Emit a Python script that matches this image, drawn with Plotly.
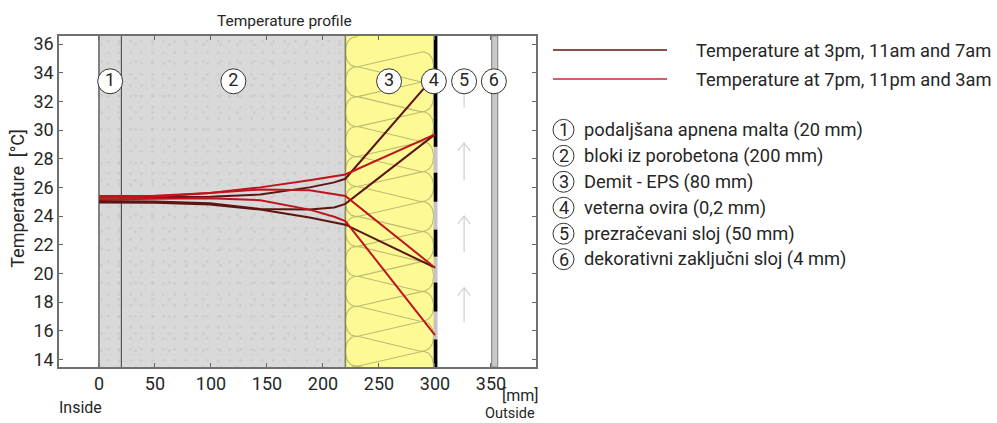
import numpy as np
import plotly.graph_objects as go

# ---- data ----
depth_mm = [0, 20, 50, 99, 144, 188, 210, 220, 300]
temp_dark_a = [25.30, 25.30, 25.30, 25.35, 25.50, 26.00, 26.35, 26.60, 33.80]
temp_dark_b = [25.05, 25.05, 25.02, 24.90, 24.50, 24.45, 24.60, 24.85, 29.70]
temp_dark_c = [24.95, 24.95, 24.92, 24.80, 24.45, 23.90, 23.55, 23.40, 20.40]
temp_red_a = [25.40, 25.40, 25.42, 25.60, 26.00, 26.50, 26.75, 26.90, 29.70]
temp_red_b = [25.30, 25.30, 25.35, 25.60, 25.85, 25.80, 25.55, 25.40, 20.40]
temp_red_c = [25.15, 25.15, 25.20, 25.25, 25.10, 24.45, 23.95, 23.65, 15.70]

layer_edges = [0, 20, 220, 300, 350.6, 356]
layer_ids = ["1", "2", "3", "4", "5", "6"]
layer_label_x = [10, 120, 259, 299, 326, 352.6]
layer_names = [
    "podaljšana apnena malta (20 mm)",
    "bloki iz porobetona (200 mm)",
    "Demit - EPS (80 mm)",
    "veterna ovira (0,2 mm)",
    "prezračevani sloj (50 mm)",
    "dekorativni zaključni sloj (4 mm)",
]
legend_names = ["Temperature at 3pm, 11am and 7am", "Temperature at 7pm, 11pm and 3am"]
x_ticks = [0, 50, 100, 150, 200, 250, 300, 350]
y_ticks = list(range(14, 38, 2))
barrier_dashes = [(13.4, 15.39), (17.34, 19.36), (21.17, 23.05), (25.0, 27.02), (28.83, 30.85), (30.85, 36.6)]
air_arrow_tips = [34.1, 29.1, 24.0, 19.0]
air_arrow_tails = [31.55, 26.5, 21.5, 16.6]

# ---- style and frame ----
W, H = 997, 423
L, R, T, B = 59, 536, 36, 367.5
X_RANGE = [-35.7, 390.2]
Y_RANGE = [13.47, 36.56]
FONT = "Roboto"
DARK = "#5c1512"
RED = "#c0141c"
TEXT = "#262626"


def px(x):
    return (x - L) / (R - L)


def py(y):
    return (B - y) / (B - T)


fig = go.Figure()


def band(x0, x1, fill, line=None, lw=0, pattern=None):
    fig.add_trace(go.Scatter(
        x=[x0, x1, x1, x0, x0],
        y=[Y_RANGE[0], Y_RANGE[0], Y_RANGE[1], Y_RANGE[1], Y_RANGE[0]],
        mode="lines", fill="toself", fillcolor=fill,
        line=dict(color=line or "rgba(0,0,0,0)", width=lw),
        fillpattern=pattern, hoverinfo="skip", showlegend=False,
    ))


# concrete with a speckled texture
band(layer_edges[0], layer_edges[2], "#d9d9d9",
     pattern=dict(shape=".", size=11, solidity=0.05, fgcolor="#c0c0c0", bgcolor="#d9d9d9"))
for size, solidity in [(17, 0.03), (7, 0.02)]:
    band(layer_edges[0], layer_edges[2], "rgba(0,0,0,0)",
         pattern=dict(shape=".", size=size, solidity=solidity, fgcolor="#c4c4c4", bgcolor="rgba(0,0,0,0)"))

band(layer_edges[2], layer_edges[3], "#fdfa96")

# insulation hatch: serpentine of straight runs and round ends
LEFT_CUSP, RIGHT_CUSP = 231.0, 287.0
PERIOD = 30 / 14.36
first_left = 36 - (36.7 - 44) / 14.36
first_right = 36 - (51.7 - 44) / 14.36
th = np.linspace(-np.pi / 2, np.pi / 2, 31)
bulge = np.cos(th) ** 0.75
hx, hy = [], []
for k in range(12):
    hx += list(LEFT_CUSP - 11.0 * bulge)
    hy += list(first_left - k * PERIOD - PERIOD / 2 - (PERIOD / 2) * np.sin(th))
    hx += list(RIGHT_CUSP + 11.8 * bulge)
    hy += list(first_right - k * PERIOD - PERIOD / 2 - (PERIOD / 2) * np.sin(th))
fig.add_trace(go.Scatter(x=hx, y=hy, mode="lines", line=dict(color="#bcbc72", width=1.1),
                         hoverinfo="skip", showlegend=False))

# layer boundaries
for xv, col, w in [(layer_edges[0], "#808080", 2), (layer_edges[1], "#4a4a4a", 1.1), (layer_edges[2], "#85855f", 1.6)]:
    fig.add_trace(go.Scatter(x=[xv, xv], y=Y_RANGE, mode="lines", line=dict(color=col, width=w),
                             hoverinfo="skip", showlegend=False))

# facade
band(layer_edges[4], layer_edges[5], "#c9c9c9", line="#8c8c8c", lw=1.2)

# wind barrier
fig.add_trace(go.Scatter(x=[layer_edges[3] + 0.5] * 2, y=Y_RANGE, mode="lines",
                         line=dict(color="#c4c4c4", width=4), hoverinfo="skip", showlegend=False))
dx, dy = [], []
for a, b in barrier_dashes:
    dx += [layer_edges[3] + 0.5, layer_edges[3] + 0.5, None]
    dy += [a, b, None]
fig.add_trace(go.Scatter(x=dx, y=dy, mode="lines", line=dict(color="#000000", width=3.6),
                         hoverinfo="skip", showlegend=False))

# air flow arrows (below the circled numbers)
AIR_X, HEAD_DX, HEAD_DY = 326, 5.5, 0.55
ax, ay = [], []
for tip, tail in zip(air_arrow_tips, air_arrow_tails):
    ax += [AIR_X, AIR_X, None, AIR_X - HEAD_DX, AIR_X, AIR_X + HEAD_DX, None]
    ay += [tail, tip, None, tip - HEAD_DY, tip, tip - HEAD_DY, None]
fig.add_trace(go.Scatter(x=ax, y=ay, mode="lines", line=dict(color="#cfcfcf", width=1.2),
                         hoverinfo="skip", showlegend=False))

# temperature profiles
for series in (temp_dark_a, temp_dark_b, temp_dark_c):
    fig.add_trace(go.Scatter(x=depth_mm, y=series, mode="lines", line=dict(color=DARK, width=2),
                             showlegend=False))
for series in (temp_red_a, temp_red_b, temp_red_c):
    fig.add_trace(go.Scatter(x=depth_mm, y=series, mode="lines", line=dict(color=RED, width=2),
                             showlegend=False))

# circled layer numbers
fig.add_trace(go.Scatter(
    x=layer_label_x, y=[33.4] * 6, mode="markers+text", text=layer_ids,
    textposition="middle center", textfont=dict(family=FONT, size=18, color=TEXT),
    marker=dict(size=25, color="white", line=dict(color="#333333", width=1)),
    hoverinfo="skip", showlegend=False, cliponaxis=False,
))

annotations = []
shapes = []


def text_at(x, y, s, size=18.3, anchor="left", angle=0, yanchor="middle"):
    annotations.append(dict(x=px(x), y=py(y), xref="paper", yref="paper", text=s, showarrow=False,
                            xanchor=anchor, yanchor=yanchor, textangle=angle, borderpad=0,
                            font=dict(family=FONT, size=size, color=TEXT)))


# outer legend
for (yy, col, name) in [(50, DARK, legend_names[0]), (79, "#c8283a", legend_names[1])]:
    shapes.append(dict(type="line", xref="paper", yref="paper", x0=px(553), x1=px(667), y0=py(yy), y1=py(yy),
                       line=dict(color=col, width=1.6)))
    text_at(695, yy + 0.5, name)

# layer key
key_rows = [130, 156, 182, 208, 234, 259.5]
for yy, ident, name in zip(key_rows, layer_ids, layer_names):
    shapes.append(dict(type="circle", xref="paper", yref="paper", x0=px(553), x1=px(574),
                       y0=py(yy - 10.5), y1=py(yy + 10.5), line=dict(color="#333333", width=1)))
    text_at(563.5, yy, ident, size=18, anchor="center")
    text_at(583, yy, name)

text_at(284, 20.5, "Temperature profile", size=15.5, anchor="center")
text_at(18, 199, "Temperature  [°C]", size=18, anchor="center", angle=-90)
text_at(540, 396, "[mm]", size=16, anchor="right")
text_at(536, 414, "Outside", size=14.5, anchor="right")
text_at(58, 408, "Inside", size=16)

axis_common = dict(showgrid=False, zeroline=False, ticks="inside", ticklen=4, tickwidth=1, tickcolor="#666666",
                   showline=True, linecolor="#707070", linewidth=1.5, mirror="ticks",
                   tickfont=dict(family=FONT, size=18, color=TEXT))
fig.update_layout(
    width=W, height=H,
    margin=dict(l=L, r=W - R, t=T, b=H - B, pad=0),
    paper_bgcolor="white", plot_bgcolor="white",
    showlegend=False, annotations=annotations, shapes=shapes,
    xaxis=dict(range=X_RANGE, tickvals=x_ticks, **axis_common),
    yaxis=dict(range=Y_RANGE, tickvals=y_ticks, **axis_common),
)
fig.write_html("out.html", config={"displayModeBar": False}, post_script="document.body.style.margin='0';")
